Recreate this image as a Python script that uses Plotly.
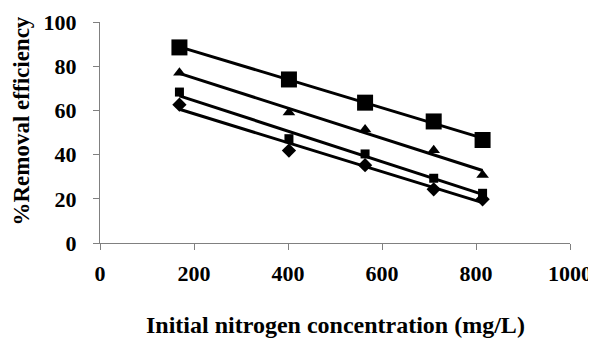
import numpy as np
import plotly.graph_objects as go

conc = [169, 402, 564, 710, 814]
series_big_square = [88.5, 74.0, 63.5, 55.0, 46.6]
series_triangle = [77.0, 59.0, 51.4, 42.0, 30.8]
series_small_square = [68.3, 47.2, 40.3, 29.3, 22.5]
series_diamond = [62.6, 41.8, 35.2, 24.3, 19.8]

x_ticks = [0, 200, 400, 600, 800, 1000]
y_ticks = [0, 20, 40, 60, 80, 100]

font = "Liberation Serif, Times New Roman, serif"

fig = go.Figure()
specs = [
    (series_big_square, "square", 16),
    (series_triangle, "triangle-up", 11),
    (series_small_square, "square", 9),
    (series_diamond, "diamond", 11),
]
xs = np.array(conc, dtype=float)
for ys, sym, sz in specs:
    m, b = np.polyfit(xs, np.array(ys), 1)
    xl = np.array([xs.min(), xs.max()])
    fig.add_trace(go.Scatter(x=xl, y=m * xl + b, mode="lines",
                             line=dict(color="black", width=3),
                             showlegend=False, hoverinfo="skip"))
    fig.add_trace(go.Scatter(x=conc, y=ys, mode="markers",
                             marker=dict(symbol=sym, size=sz, color="black"),
                             showlegend=False))

fig.update_layout(
    width=588, height=330,
    margin=dict(l=92, r=26, t=14, b=95, autoexpand=False),
    paper_bgcolor="white", plot_bgcolor="white",
    font=dict(family=font, size=18, color="black"),
    showlegend=False,
    annotations=[
        dict(text="<b>Initial nitrogen concentration (mg/L)</b>",
             xref="paper", yref="paper", x=0.5, y=0, xanchor="center",
             yanchor="middle", yshift=-82, showarrow=False,
             font=dict(family=font, size=24, color="black")),
        dict(text="<b>%Removal efficiency</b>",
             xref="paper", yref="paper", x=0, y=0.5, xanchor="center",
             yanchor="middle", xshift=-79, yshift=11, textangle=-90,
             showarrow=False,
             font=dict(family=font, size=23, color="black")),
    ],
)
fig.update_xaxes(
    range=[0, 1000], tickvals=x_ticks, ticks="outside", ticklen=6,
    tickcolor="#808080", showline=True, linecolor="#808080", linewidth=1,
    showgrid=False, zeroline=False, automargin=False,
    tickfont=dict(family=font, size=22, color="black", weight="bold"),
    ticklabelstandoff=5,
)
fig.update_yaxes(
    range=[0, 100], tickvals=y_ticks, ticks="outside", ticklen=6,
    tickcolor="#808080", showline=True, linecolor="#808080", linewidth=1,
    showgrid=False, zeroline=False, automargin=False,
    tickfont=dict(family=font, size=22, color="black", weight="bold"),
    ticklabelstandoff=12,
)
fig.write_html("out.html")
